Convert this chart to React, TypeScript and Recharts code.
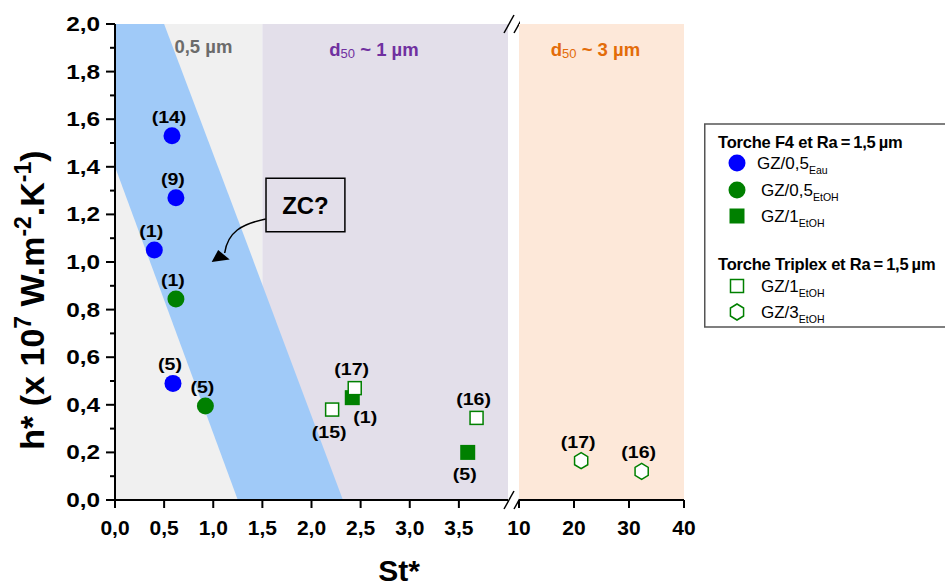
import React from "react";
import { ComposedChart, Scatter, Area, XAxis, YAxis, ReferenceArea, ReferenceDot } from "recharts";

const FONT = '"Liberation Sans", Arial, Helvetica, sans-serif';
const BLUE = "#0000ff";
const GREEN = "#008000";

// axis ticks
const yTicks = [0, 0.1, 0.2, 0.3, 0.4, 0.5, 0.6, 0.7, 0.8, 0.9, 1.0, 1.1, 1.2, 1.3, 1.4, 1.5, 1.6, 1.7, 1.8, 1.9, 2.0];
const xTicksLow = [0, 0.5, 1.0, 1.5, 2.0, 2.5, 3.0, 3.5];
const xTicksHigh = [10, 20, 30, 40];

// Torche F4, GZ/0,5 Eau
const eauSt = [0.58, 0.62, 0.40, 0.59];
const eauH = [1.53, 1.27, 1.05, 0.49];
const eauLabels = ["(14)", "(9)", "(1)", "(5)"];
const eauSides = ["top", "top", "top", "top"];

// Torche F4, GZ/0,5 EtOH
const etoh05St = [0.62, 0.92];
const etoh05H = [0.845, 0.395];
const etoh05Labels = ["(1)", "(5)"];
const etoh05Sides = ["top", "top"];

// Torche F4, GZ/1 EtOH
const f4Gz1St = [2.415, 3.59];
const f4Gz1H = [0.43, 0.2];
const f4Gz1Labels = ["(1)", "(5)"];
const f4Gz1Sides = ["bottomRight", "bottom"];

// Torche Triplex, GZ/1 EtOH
const triGz1St = [2.44, 2.21, 3.68];
const triGz1H = [0.47, 0.38, 0.345];
const triGz1Labels = ["(17)", "(15)", "(16)"];
const triGz1Sides = ["top", "bottom", "top"];

// Torche Triplex, GZ/3 EtOH
const triGz3St = [21.3, 32.3];
const triGz3H = [0.165, 0.12];
const triGz3Labels = ["(17)", "(16)"];
const triGz3Sides = ["top", "top"];

// blue band (ZC) outline: St, lower and upper h
const bandSt = [0, 0.5, 1.25, 2.32];
const bandLow = [1.4, 0.84, 0, 0];
const bandHigh = [2.0, 2.0, 1.18, 0];

const build = (st: number[], h: number[], labels: string[], sides: string[]) =>
  st.map((v, i) => ({ st: v, h: h[i], label: labels[i], side: sides[i] }));

const eauData = build(eauSt, eauH, eauLabels, eauSides);
const etoh05Data = build(etoh05St, etoh05H, etoh05Labels, etoh05Sides);
const f4Gz1Data = build(f4Gz1St, f4Gz1H, f4Gz1Labels, f4Gz1Sides);
const triGz1Data = build(triGz1St, triGz1H, triGz1Labels, triGz1Sides);
const triGz3Data = build(triGz3St, triGz3H, triGz3Labels, triGz3Sides);
const bandData = bandSt.map((st, i) => ({ st, range: [bandLow[i], bandHigh[i]] }));

const fmt = (v: number) => v.toFixed(1).replace(".", ",");

function Marker({ kind, color, cx, cy }: { kind: string; color: string; cx: number; cy: number }) {
  if (kind === "circle") return <circle cx={cx} cy={cy} r={8.5} fill={color} />;
  if (kind === "square") return <rect x={cx - 7.5} y={cy - 7.5} width={15} height={15} fill={color} />;
  if (kind === "openSquare")
    return <rect x={cx - 6.5} y={cy - 6.5} width={13} height={13} fill="#fff" stroke={color} strokeWidth={1.5} />;
  const r = 8;
  const pts = [0, 60, 120, 180, 240, 300]
    .map((a) => {
      const t = ((a - 90) * Math.PI) / 180;
      return `${cx + r * Math.cos(t) * 0.95},${cy + r * Math.sin(t)}`;
    })
    .join(" ");
  return <polygon points={pts} fill="#fff" stroke={color} strokeWidth={1.5} />;
}

const labelOffset: Record<string, [number, number]> = {
  top: [-3, -13],
  bottom: [-3, 28],
  bottomRight: [13, 25],
};

const pointShape = (kind: string, color: string) => (props: any) => {
  const { cx, cy, payload } = props;
  const [dx, dy] = labelOffset[payload.side];
  return (
    <g>
      <Marker kind={kind} color={color} cx={cx} cy={cy} />
      <text
        transform={`translate(${cx + dx},${cy + dy}) scale(1.15,1)`}
        textAnchor="middle"
        fontSize={17}
        fontWeight="bold"
        fill="#000"
      >
        {payload.label}
      </text>
    </g>
  );
};

function YTick(props: any) {
  const { x, y, payload } = props;
  const v = payload.value;
  const major = Math.round(v * 10) % 2 === 0;
  return (
    <g>
      <line x1={x - (major ? 9 : 5)} x2={x} y1={y} y2={y} stroke="#000" strokeWidth={2} />
      {major && (
        <text
          transform={`translate(${x - 15},${y + 7}) scale(1.25,1)`}
          textAnchor="end"
          fontSize={19.5}
          fontWeight="bold"
          fill="#000"
        >
          {fmt(v)}
        </text>
      )}
    </g>
  );
}

const noTick = () => <g />;

const breakMark = (props: any) => {
  const { cx, cy } = props;
  return (
    <g stroke="#000" strokeWidth={1.5}>
      <line x1={cx - 4} y1={cy + 9} x2={cx + 6} y2={cy - 9} />
      <line x1={cx + 6} y1={cy + 9} x2={cx + 16} y2={cy - 9} />
    </g>
  );
};

const regionText = (main: string, color: string, sub?: string, rest?: string) => (props: any) => {
  const { cx, cy } = props;
  return (
    <text x={cx} y={cy} textAnchor="middle" fill={color} fontSize={18.5} fontWeight="bold">
      {main}
      {sub && (
        <tspan fontSize={13} fontWeight="normal" dy={2}>
          {sub}
        </tspan>
      )}
      {rest && <tspan dy={sub ? -2 : 0}>{rest}</tspan>}
    </text>
  );
};

const arrowShape = (props: any) => {
  const { cx, cy } = props;
  return (
    <g>
      <path
        d={`M${cx + 54},${cy - 43} C${cx + 30},${cy - 38} ${cx + 16},${cy - 30} ${cx + 13},${cy - 9}`}
        fill="none"
        stroke="#000"
        strokeWidth={1.5}
      />
      <polygon points={`${cx},${cy} ${cx + 6.5},${cy - 12} ${cx + 18},${cy - 2.5}`} fill="#000" />
    </g>
  );
};

const axisLine = { stroke: "#000", strokeWidth: 2 };
const tickLine = { stroke: "#000", strokeWidth: 2 };
const xTickStyle = { fontSize: 21, fontWeight: "bold", fill: "#000" } as any;

function LeftChart() {
  return (
    <ComposedChart width={520} height={587} margin={{ top: 24, right: 12, bottom: 47, left: 0 }}>
      <XAxis
        dataKey="st"
        type="number"
        domain={[0, 4]}
        ticks={xTicksLow}
        tickFormatter={fmt}
        height={40}
        tickSize={8}
        tickMargin={12}
        axisLine={axisLine}
        tickLine={tickLine}
        tick={xTickStyle}
        interval={0}
      />
      <XAxis
        xAxisId="top"
        orientation="top"
        type="number"
        domain={[0, 4]}
        ticks={xTicksLow}
        height={0}
        mirror
        tickSize={3}
        axisLine={axisLine}
        tickLine={{ stroke: "#000", strokeWidth: 1 }}
        tick={noTick}
      />
      <YAxis
        dataKey="h"
        type="number"
        domain={[0, 2]}
        ticks={yTicks}
        width={115}
        tickSize={0}
        tickMargin={0}
        tickLine={false}
        axisLine={axisLine}
        tick={<YTick />}
        interval={0}
      />
      <ReferenceArea x1={0} x2={1.5} y1={0} y2={2} fill="#f0f0f0" fillOpacity={1} stroke="none" />
      <ReferenceArea x1={1.5} x2={4} y1={0} y2={2} fill="#e3dfea" fillOpacity={1} stroke="none" />
      <Area
        data={bandData}
        dataKey="range"
        type="linear"
        fill="#a0caf8"
        fillOpacity={1}
        stroke="none"
        dot={false}
        activeDot={false}
        isAnimationActive={false}
      />
      <ReferenceDot x={0.9} y={1.878} r={0} shape={regionText("0,5 µm", "#6b6b6b")} />
      <ReferenceDot x={2.636} y={1.866} r={0} shape={regionText("d", "#7030a0", "50", " ~ 1 µm")} />
      <ReferenceArea
        x1={1.537}
        x2={2.34}
        y1={1.127}
        y2={1.352}
        fill="none"
        fillOpacity={0}
        stroke="#000"
        strokeWidth={1.5}
        label={{ value: "ZC?", position: "center", fontSize: 24, fontWeight: "bold", fill: "#000" }}
      />
      <ReferenceDot x={0.984} y={1.0} r={0} shape={arrowShape} />
      <ReferenceDot x={4} y={2} r={0} shape={breakMark} />
      <ReferenceDot x={4} y={0} r={0} shape={breakMark} />
      <Scatter data={eauData} shape={pointShape("circle", BLUE)} isAnimationActive={false} />
      <Scatter data={etoh05Data} shape={pointShape("circle", GREEN)} isAnimationActive={false} />
      <Scatter data={f4Gz1Data} shape={pointShape("square", GREEN)} isAnimationActive={false} />
      <Scatter data={triGz1Data} shape={pointShape("openSquare", GREEN)} isAnimationActive={false} />
    </ComposedChart>
  );
}

function RightChart() {
  return (
    <ComposedChart width={700} height={587} margin={{ top: 24, right: 16, bottom: 47, left: 519 }}>
      <XAxis
        dataKey="st"
        type="number"
        domain={[10, 40]}
        ticks={xTicksHigh}
        height={40}
        tickSize={8}
        tickMargin={12}
        axisLine={axisLine}
        tickLine={tickLine}
        tick={xTickStyle}
        interval={0}
      />
      <XAxis
        xAxisId="top"
        orientation="top"
        type="number"
        domain={[10, 40]}
        ticks={xTicksHigh}
        height={0}
        mirror
        tickSize={3}
        axisLine={axisLine}
        tickLine={{ stroke: "#000", strokeWidth: 1 }}
        tick={noTick}
      />
      <YAxis
        dataKey="h"
        orientation="right"
        type="number"
        domain={[0, 2]}
        ticks={yTicks.filter((_, i) => i % 2 === 0)}
        width={0}
        mirror
        tickSize={3}
        axisLine={axisLine}
        tickLine={{ stroke: "#000", strokeWidth: 1 }}
        tick={noTick}
      />
      <ReferenceArea x1={10} x2={40} y1={0} y2={2} fill="#fde8d9" fillOpacity={1} stroke="none" />
      <ReferenceDot x={23.9} y={1.866} r={0} shape={regionText("d", "#e36c09", "50", " ~ 3 µm")} />
      <Scatter data={triGz3Data} shape={pointShape("hexagon", GREEN)} isAnimationActive={false} />
    </ComposedChart>
  );
}

const legendGroups = [
  {
    title: "Torche F4 et Ra\u2009=\u20091,5\u2009µm",
    items: [
      { kind: "circle", color: BLUE, name: "GZ/0,5", sub: "Eau" },
      { kind: "circle", color: GREEN, name: "GZ/0,5", sub: "EtOH" },
      { kind: "square", color: GREEN, name: "GZ/1", sub: "EtOH" },
    ],
  },
  {
    title: "Torche Triplex et Ra\u2009=\u20091,5\u2009µm",
    items: [
      { kind: "openSquare", color: GREEN, name: "GZ/1", sub: "EtOH" },
      { kind: "hexagon", color: GREEN, name: "GZ/3", sub: "EtOH" },
    ],
  },
];

function LegendBox() {
  const rowsY = [[163, 190, 216], [286, 312]];
  const titleY = [148, 270];
  return (
    <svg width={260} height={220} style={{ position: "absolute", left: 704, top: 116 }}>
      <rect x={0.75} y={8} width={300} height={203} fill="#fff" stroke="#555" strokeWidth={1.5} />
      {legendGroups.map((g, gi) => (
        <g key={gi}>
          <text x={14} y={titleY[gi] - 116} fontSize={16.5} fontWeight="bold" fill="#000" letterSpacing={-0.2}>
            {g.title}
          </text>
          {g.items.map((it, ii) => {
            const cy = rowsY[gi][ii] - 116;
            return (
              <g key={ii}>
                <Marker kind={it.kind} color={it.color} cx={33} cy={cy} />
                <text x={ii === 0 && gi === 0 ? 53 : 57} y={cy + 6} fontSize={17} fill="#000">
                  {it.name}
                  <tspan fontSize={10.5} dy={5}>
                    {it.sub}
                  </tspan>
                </text>
              </g>
            );
          })}
        </g>
      ))}
    </svg>
  );
}

export default function App() {
  return (
    <div
      style={{
        position: "absolute",
        left: 0,
        top: 0,
        width: 945,
        height: 587,
        overflow: "hidden",
        background: "#fff",
        fontFamily: FONT,
      }}
    >
      <div style={{ position: "absolute", left: 0, top: 0 }}>
        <LeftChart />
      </div>
      <div style={{ position: "absolute", left: 0, top: 0 }}>
        <RightChart />
      </div>
      <svg width={945} height={587} style={{ position: "absolute", left: 0, top: 0, pointerEvents: "none" }}>
        <text
          transform="translate(44,300) rotate(-90)"
          textAnchor="middle"
          fontSize={34}
          fontWeight="bold"
          fill="#000"
        >
          h* (x 10
          <tspan fontSize={23} dy={-13}>
            7
          </tspan>
          <tspan dy={13}> W.m</tspan>
          <tspan fontSize={23} dy={-13}>
            -2
          </tspan>
          <tspan dy={13}>.K</tspan>
          <tspan fontSize={23} dy={-13}>
            -1
          </tspan>
          <tspan dy={13}>)</tspan>
        </text>
        <text x={399} y={581} textAnchor="middle" fontSize={30} fontWeight="bold" fill="#000">
          St*
        </text>
      </svg>
      <LegendBox />
    </div>
  );
}
